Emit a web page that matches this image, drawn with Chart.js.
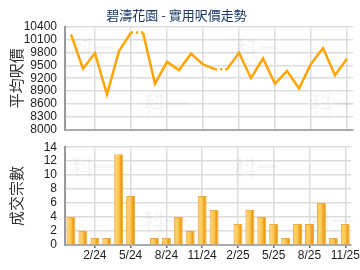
<!DOCTYPE html>
<html><head><meta charset="utf-8">
<script src="https://cdn.jsdelivr.net/npm/chart.js@4.4.1/dist/chart.umd.min.js"></script>
<style>
html,body{margin:0;padding:0;background:#fff;}
#wrap{position:relative;width:360px;height:270px;}
#c1{position:absolute;left:0;top:0;z-index:1;}
#c2{position:absolute;left:0;top:132px;z-index:2;}
</style></head><body>
<div id="wrap"><canvas id="c1" width="360" height="145"></canvas><canvas id="c2" width="360" height="138"></canvas></div>
<script>
const months = ['12/23','1/24','2/24','3/24','4/24','5/24','6/24','7/24','8/24','9/24','10/24','11/24','12/24','1/25','2/25','3/25','4/25','5/25','6/25','7/25','8/25','9/25','10/25','11/25'];
const avgPrice = [10220,9420,9780,8820,9830,10260,10260,9070,9580,9390,9770,9520,9410,9410,9790,9200,9660,9070,9370,8960,9530,9900,9270,9650];
const dealCounts = [4,2,1,1,13,7,0,1,1,4,2,7,5,0,3,5,4,3,1,3,3,6,1,3];
const priceTicks = {min:8000,max:10400,step:300};
const countTicks = {min:0,max:14,step:2};
const titleText = '碧濤花園 - 實用呎價走勢';
const priceAxisTitle = '平均呎價';
const countAxisTitle = '成交宗數';
const watermark = '科一';

Chart.defaults.animation = false;
Chart.defaults.font.family = '"Liberation Sans", Arial, sans-serif';
Chart.defaults.color = '#333';

const showTick = i => i % 3 === 2;
const AXIS_W = 65;

const wmPlugin = {
  id:'wm',
  beforeDatasetsDraw(chart){
    const {ctx, chartArea:a} = chart;
    ctx.save();
    ctx.fillStyle = 'rgba(0,0,0,0.035)';
    ctx.font = 'bold 22px "Noto Sans CJK TC", sans-serif';
    ctx.textAlign = 'center'; ctx.textBaseline = 'middle';
    const h = a.bottom - a.top;
    [[0.03,0.2],[0.28,0.75],[0.6,0.2],[0.86,0.75]].forEach(([fx,fy])=>{
      ctx.fillText(watermark, a.left + fx*(a.right-a.left)+20, a.top + fy*h);
    });
    ctx.restore();
  }
};

function xScale(showLabels, h){
  return {
    type:'category', offset:true,
    grid:{offset:false, color:c=>showTick(c.index)?'#dddddd':'rgba(0,0,0,0)', lineWidth:1.5,
      tickColor:c=>showTick(c.index)?'#666':'rgba(0,0,0,0)', tickLength: showLabels?3:0, drawTicks:showLabels},
    border:{display:true, color:'#aaaaaa', width:2},
    ticks:{display:showLabels, autoSkip:false, maxRotation:0, padding:0, color:'#222', font:{size:12},
      callback:function(v,i){return showTick(i)?this.getLabelForValue(v):'';}},
    afterFit(s){ s.height = h; }
  };
}
function yScale(t, title){
  return {
    min:t.min, max:t.max,
    grid:{color:'#dddddd', lineWidth:1.5, drawTicks:false},
    border:{display:true, color:'#999999', width:2},
    ticks:{stepSize:t.step, autoSkip:false, padding:8, color:'#222', font:{size:12}, callback:v=>String(v)},
    title:{display:true, text:title, color:'#333', font:{size:15, family:'"Noto Sans CJK TC", sans-serif'}, padding:{top:7,bottom:0}},
    afterFit(s){ s.width = AXIS_W; }
  };
}

new Chart(document.getElementById('c1'), {
  type:'line',
  data:{labels:months, datasets:[{
    data:avgPrice, borderColor:'#ffa500', borderWidth:2.5, pointRadius:0, tension:0, fill:false,
    borderCapStyle:'butt', borderJoinStyle:'miter',
    segment:{borderDash:c=>dealCounts[c.p1DataIndex]===0?[2,3]:undefined}
  }]},
  options:{
    responsive:false,
    layout:{padding:{left:0,right:7,top:0,bottom:0}},
    plugins:{legend:{display:false}, tooltip:{enabled:false},
      title:{display:true, text:titleText, color:'#1a3a66', font:{size:13, weight:'normal', family:'"Noto Sans CJK TC", sans-serif'}, padding:{top:7,bottom:4}}},
    scales:{x:xScale(false, 6), y:yScale(priceTicks, priceAxisTitle)}
  },
  plugins:[wmPlugin]
});

new Chart(document.getElementById('c2'), {
  type:'bar',
  data:{labels:months, datasets:[{
    data:dealCounts,
    backgroundColor:function(c){
      const ch = c.chart; const xs = ch.scales.x;
      if(!xs || !ch.chartArea) return '#f5b030';
      const cx = xs.getPixelForValue(c.dataIndex); const w = 4.5;
      const g = ch.ctx.createLinearGradient(cx-w,0,cx+w,0);
      g.addColorStop(0,'#f5b030'); g.addColorStop(0.25,'#fdd370'); g.addColorStop(0.5,'#fbc550');
      g.addColorStop(0.8,'#ea9a10'); g.addColorStop(1,'#f3ac35');
      return g;
    },
    borderColor:'#f3a838', borderWidth:1, barPercentage:0.75, categoryPercentage:1
  }]},
  options:{
    responsive:false,
    layout:{padding:{left:0,right:7,top:3,bottom:0}},
    plugins:{legend:{display:false}, tooltip:{enabled:false}},
    scales:{x:xScale(true, 25), y:yScale(countTicks, countAxisTitle)}
  },
  plugins:[wmPlugin]
});
</script></body></html>
